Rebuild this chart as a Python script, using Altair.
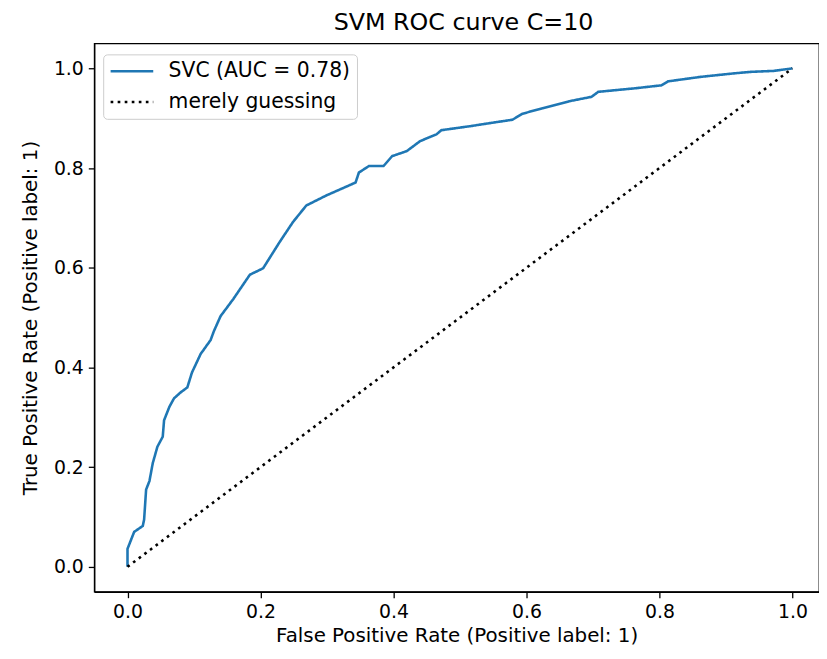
import altair as alt
import pandas as pd

# ROC curve points
fpr = [0.0, 0.0, 0.01, 0.023, 0.025, 0.028, 0.033, 0.038, 0.045, 0.053, 0.055, 0.063,
       0.07, 0.08, 0.09, 0.097, 0.11, 0.125, 0.13, 0.14, 0.159, 0.184, 0.204, 0.229,
       0.249, 0.269, 0.299, 0.343, 0.348, 0.363, 0.385, 0.398, 0.42, 0.44, 0.465,
       0.472, 0.515, 0.549, 0.579, 0.594, 0.624, 0.664, 0.698, 0.708, 0.763, 0.803,
       0.813, 0.862, 0.912, 0.937, 0.972, 1.0]
tpr = [0.0, 0.036, 0.07, 0.082, 0.095, 0.155, 0.172, 0.208, 0.241, 0.261, 0.294, 0.321,
       0.338, 0.35, 0.36, 0.39, 0.427, 0.455, 0.473, 0.503, 0.537, 0.586, 0.599, 0.652,
       0.692, 0.725, 0.745, 0.771, 0.791, 0.804, 0.804, 0.824, 0.834, 0.854, 0.868,
       0.876, 0.884, 0.891, 0.897, 0.909, 0.92, 0.934, 0.943, 0.953, 0.96, 0.966,
       0.974, 0.983, 0.99, 0.993, 0.995, 1.0]
guess_x = [0.0, 1.0]
guess_y = [0.0, 1.0]
series = ["SVC (AUC = 0.78)", "merely guessing"]

rows = [{"fpr": a, "tpr": b, "series": series[0], "order": i} for i, (a, b) in enumerate(zip(fpr, tpr))]
rows += [{"fpr": a, "tpr": b, "series": series[1], "order": i} for i, (a, b) in enumerate(zip(guess_x, guess_y))]
df = pd.DataFrame(rows)

font = "DejaVu Sans"

chart = alt.Chart(df).mark_line(strokeWidth=2.6, strokeCap="butt", clip=True).encode(
    x=alt.X("fpr:Q", title="False Positive Rate (Positive label: 1)",
            scale=alt.Scale(domain=[-0.05, 1.04], nice=False, zero=False),
            axis=alt.Axis(values=[0, 0.2, 0.4, 0.6, 0.8, 1.0], format=".1f")),
    y=alt.Y("tpr:Q", title="True Positive Rate (Positive label: 1)",
            scale=alt.Scale(domain=[-0.05, 1.05], nice=False, zero=False),
            axis=alt.Axis(values=[0, 0.2, 0.4, 0.6, 0.8, 1.0], format=".1f")),
    color=alt.Color("series:N", scale=alt.Scale(domain=series, range=["#1f77b4", "#000000"]),
                    legend=alt.Legend(title=None)),
    strokeDash=alt.StrokeDash("series:N", scale=alt.Scale(domain=series, range=[[1, 0], [2.7, 4.4]]),
                              legend=alt.Legend(title=None)),
    order="order:Q",
).properties(
    width=731, height=553,
    title=alt.TitleParams("SVM ROC curve C=10", fontSize=24, font=font, fontWeight="normal",
                          color="#000000", offset=9, dx=7),
    autosize=alt.AutoSizeParams(type="none"),
    padding={"left": 87, "top": 33, "right": 0, "bottom": 57},
).configure_view(
    stroke="#000000", strokeWidth=1.3
).configure_axis(
    grid=False, labelFont=font, titleFont=font, labelFontSize=19, titleFontSize=20,
    labelColor="#000000", titleColor="#000000", tickColor="#000000", domainColor="#000000",
    tickSize=6, labelPadding=5, titleFontWeight="normal", domainWidth=1.3, tickWidth=1.3,
).configure_axisY(titlePadding=13).configure_axisX(titlePadding=4).configure_legend(
    orient="none", legendX=9, legendY=11, labelFont=font, labelFontSize=20.5,
    labelColor="#000000", labelLimit=500, symbolType="stroke", symbolSize=1849,
    symbolStrokeWidth=2.6, padding=6, symbolOffset=0, clipHeight=22, rowPadding=9,
    strokeColor="#cccccc", fillColor="#ffffff", cornerRadius=4, labelOffset=14,
)

chart.save("out.html", embed_options={"renderer": "svg", "actions": False})
